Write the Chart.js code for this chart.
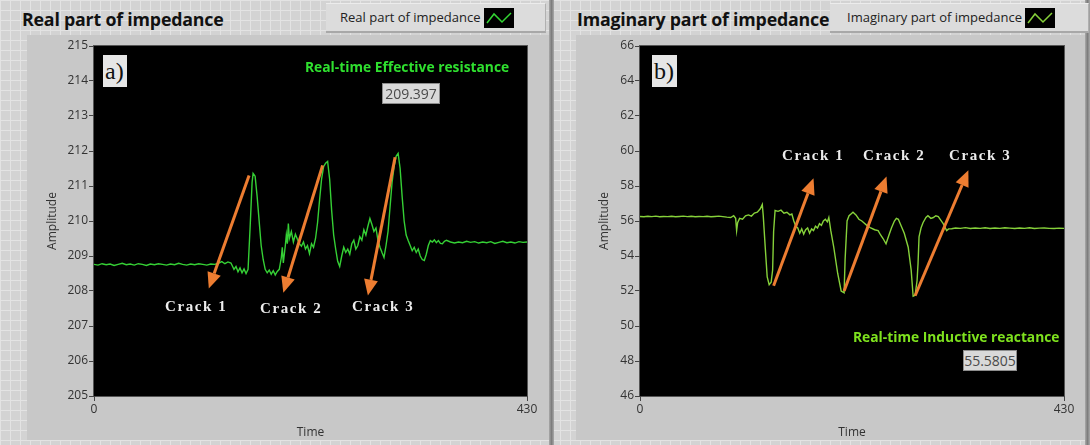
<!DOCTYPE html>
<html>
<head>
<meta charset="utf-8">
<script src="https://cdn.jsdelivr.net/npm/chart.js@4.4.0/dist/chart.umd.min.js"></script>
<style>
  body {
    margin: 0;
    width: 1090px;
    height: 445px;
    overflow: hidden;
    position: relative;
    font-family: "Open Sans", "Noto Sans", sans-serif;
    background-color: #d3d3d3;
    background-image:
      linear-gradient(#e3e3e3 1px, transparent 1px),
      linear-gradient(90deg, #e3e3e3 1px, transparent 1px);
    background-size: 10px 10px;
  }
  .abs { position: absolute; white-space: nowrap; }
  .panel { position: absolute; background: #c8c8c8; }
  .divider { position: absolute; top: 0; height: 445px; background: linear-gradient(90deg, #a9a9a9, #7d7d7d, #a9a9a9); }
  .title { font-weight: 700; font-size: 17.8px; color: #111; letter-spacing: -0.2px; }
  .legend {
    position: absolute; height: 27px; background: #dcdcdc;
    border-top: 1px solid #ececec;
    border-bottom: 2px solid #a8a8a8; border-right: 1px solid #b0b0b0;
    font-size: 13px; color: #222; line-height: 27px;
  }
  .legend svg { position: absolute; top: 4px; }
  canvas { position: absolute; }
  .crack { font-family: "Liberation Serif", serif; font-weight: 700; font-size: 15px; color: #ececec; letter-spacing: 1.6px; }
  .tag { background: #e6e6e6; font-family: "Liberation Serif", serif; font-size: 24px; color: #111; line-height: 32px; padding-left: 2px; }
  .glabel { font-weight: 700; font-size: 13.8px; }
  .vbox { background: #d9d9d9; border: 1px solid #8c8c8c; color: #4a4a4a; font-size: 14px; text-align: center; line-height: 19px; }
</style>
</head>
<body>
<div class="panel" style="left:27px;top:35px;width:522px;height:405px;"></div>
<div class="panel" style="left:576px;top:35px;width:509px;height:405px;"></div>
<div class="divider" style="left:549px;width:5px;"></div>
<div class="divider" style="left:1085px;width:5px;"></div>

<div class="abs title" style="left:22px;top:7px;">Real part of impedance</div>
<div class="legend" style="left:326px;top:3px;width:219px;">
  <span style="position:absolute;left:14px;">Real part of impedance</span>
  <svg style="left:158px;" width="30" height="20"><rect width="30" height="20" fill="#000"/><polyline points="3,15 10,6 18,14 27,5" fill="none" stroke="#33d633" stroke-width="1.5"/></svg>
</div>

<div class="abs title" style="left:577px;top:7px;">Imaginary part of impedance</div>
<div class="legend" style="left:830px;top:3px;width:258px;">
  <span style="position:absolute;left:17px;">Imaginary part of impedance</span>
  <svg style="left:195px;" width="30" height="20"><rect width="30" height="20" fill="#000"/><polyline points="3,15 10,6 18,14 27,5" fill="none" stroke="#86d13a" stroke-width="1.5"/></svg>
</div>

<canvas id="realChart" width="520" height="410" style="left:28px;top:35px;"></canvas>
<canvas id="imagChart" width="508" height="410" style="left:577px;top:35px;"></canvas>

<!-- panel a) overlays -->
<div class="abs tag" style="left:103px;top:55px;width:22px;height:32px;">a)</div>
<div class="abs glabel" style="left:305px;top:57px;color:#2fe02f;">Real-time Effective resistance</div>
<div class="abs vbox" style="left:382px;top:83px;width:56px;height:19px;">209.397</div>
<div class="abs crack" style="left:165px;top:298px;">Crack 1</div>
<div class="abs crack" style="left:260px;top:300px;">Crack 2</div>
<div class="abs crack" style="left:352px;top:298px;">Crack 3</div>

<!-- panel b) overlays -->
<div class="abs tag" style="left:652px;top:55px;width:23px;height:32px;">b)</div>
<div class="abs glabel" style="left:853px;top:327px;color:#7ee21e;">Real-time Inductive reactance</div>
<div class="abs vbox" style="left:963px;top:350px;width:52px;height:19px;">55.5805</div>
<div class="abs crack" style="left:782px;top:147px;">Crack 1</div>
<div class="abs crack" style="left:863px;top:147px;">Crack 2</div>
<div class="abs crack" style="left:949px;top:147px;">Crack 3</div>

<script>
// 실수부 (유효 저항) 시계열
const realTime = [
  0, 4, 8, 12, 16, 20, 24, 28, 32, 36, 40, 44, 48, 52, 56, 60, 64, 68, 72, 76,
  80, 84, 88, 92, 96, 100, 104, 108, 112, 116, 120, 124, 127, 130, 133, 136, 139, 141, 143, 145,
  147, 149, 151, 153, 155, 157, 158, 160, 162, 164, 166, 168, 170, 172, 174, 176, 178, 180, 182, 184,
  186, 187, 188, 190, 191, 192, 193, 194, 196, 198, 200, 202, 204, 206, 208, 210, 212, 214, 216, 218,
  220, 222, 224, 226, 228, 230, 232, 234, 236, 238, 240, 242, 244, 246, 248, 250, 252, 254, 256, 258,
  260, 262, 264, 266, 268, 270, 272, 274, 276, 278, 280, 282, 284, 286, 288, 290, 292, 294, 296, 298,
  300, 302, 304, 306, 308, 310, 312, 314, 316, 318, 320, 322, 324, 326, 328, 330, 332, 334, 336, 338,
  340, 342, 344, 346, 348, 350, 354, 358, 362, 366, 370, 374, 378, 382, 386, 390, 394, 398, 402, 406,
  410, 414, 418, 422, 426, 430
];
const realValues = [
  208.76, 208.74, 208.78, 208.75, 208.77, 208.73, 208.76, 208.79, 208.75, 208.77, 208.74, 208.78, 208.76, 208.73, 208.77, 208.75, 208.78, 208.76, 208.74, 208.77,
  208.75, 208.79, 208.76, 208.74, 208.77, 208.75, 208.78, 208.76, 208.74, 208.77, 208.76, 208.80, 208.84, 208.78, 208.83, 208.80, 208.62, 208.70, 208.55, 208.66,
  208.52, 208.63, 208.50, 208.62, 209.80, 211.10, 211.36, 211.28, 210.70, 210.00, 209.30, 208.90, 208.62, 208.52, 208.60, 208.48, 208.58, 208.46, 208.56, 208.62,
  208.95, 209.25, 208.80, 209.30, 209.60, 209.35, 209.93, 209.50, 209.70, 209.40, 209.62, 209.48, 209.35, 209.28, 209.40, 209.20, 209.30, 209.07, 209.35, 209.25,
  209.50, 209.95, 210.60, 211.20, 211.55, 211.65, 211.70, 211.20, 210.30, 209.60, 209.20, 208.85, 208.70, 209.00, 209.25, 209.10, 209.20, 209.05, 209.35, 209.45,
  209.20, 209.30, 209.55, 209.45, 209.75, 209.60, 209.85, 210.07, 209.90, 209.70, 209.80, 209.45, 209.25, 209.10, 208.96, 209.30, 209.70, 210.40, 211.10, 211.55,
  211.85, 211.93, 211.50, 210.70, 210.00, 209.60, 209.44, 209.30, 209.15, 209.25, 209.10, 209.20, 209.00, 208.90, 208.87, 209.05, 209.30, 209.44, 209.40, 209.46,
  209.38, 209.44, 209.36, 209.35, 209.42, 209.45, 209.40, 209.37, 209.40, 209.38, 209.42, 209.39, 209.41, 209.37, 209.40, 209.38, 209.41, 209.36, 209.39, 209.42,
  209.38, 209.40, 209.37, 209.41, 209.39, 209.40
];

// 허수부 (유도 리액턴스) 시계열
const imagTime = [
  0, 4, 8, 12, 16, 20, 24, 28, 32, 36, 40, 44, 48, 52, 56, 60, 64, 68, 72, 76,
  80, 84, 88, 92, 95, 97, 98, 99, 101, 104, 107, 110, 113, 116, 119, 122, 124, 125, 127, 129,
  131, 133, 134.5, 135.5, 137, 140, 143, 146, 149, 152, 154, 156, 158, 160, 162, 164, 166, 168, 170, 172,
  174, 176, 178, 180, 182, 184, 186, 188, 190, 191.5, 193.5, 196.5, 200.5, 204, 207, 208, 210, 212, 214, 216,
  219, 222, 225, 227, 230, 234, 238, 241.5, 244, 246.5, 249.5, 252.5, 255, 258, 260, 262, 265, 268, 272, 275,
  277, 279, 281, 282, 283, 285, 287, 290, 292, 295, 297.5, 300, 302.5, 305, 307.5, 311, 313, 316, 320, 325,
  330, 335, 340, 345, 350, 355, 360, 365, 370, 375, 380, 385, 390, 395, 400, 405, 410, 415, 420, 425, 430
];
const imagValues = [
  56.26, 56.24, 56.27, 56.25, 56.28, 56.24, 56.26, 56.25, 56.27, 56.24, 56.26, 56.28, 56.25, 56.27, 56.24, 56.26, 56.25, 56.27, 56.24, 56.26,
  56.28, 56.25, 56.22, 56.20, 56.30, 56.15, 55.45, 55.90, 56.15, 56.10, 56.30, 56.35, 56.28, 56.45, 56.50, 56.70, 56.95, 56.30, 54.50, 52.80,
  52.36, 52.50, 53.20, 55.40, 56.60, 56.55, 56.62, 56.45, 56.50, 56.35, 56.40, 56.00, 55.70, 55.60, 55.30, 55.55, 55.25, 55.50, 55.60, 55.30,
  55.55, 55.45, 55.70, 55.60, 55.85, 55.75, 56.00, 56.10, 55.95, 56.20, 55.45, 54.50, 53.00, 52.00, 51.90, 53.80, 56.00, 56.30, 56.40, 56.50,
  56.35, 56.10, 56.00, 55.90, 55.75, 55.60, 55.50, 55.45, 55.20, 55.00, 54.70, 55.20, 55.60, 56.00, 56.15, 56.10, 55.70, 55.30, 54.50, 53.20,
  51.70, 51.75, 52.60, 53.60, 55.10, 55.60, 55.90, 56.20, 56.30, 56.15, 56.20, 56.30, 56.25, 56.05, 55.85, 55.45, 55.55, 55.56, 55.60, 55.58,
  55.62, 55.57, 55.60, 55.58, 55.61, 55.57, 55.60, 55.58, 55.61, 55.59, 55.57, 55.60, 55.58, 55.61, 55.57, 55.59, 55.60, 55.58, 55.57, 55.59, 55.58
];

// 균열 화살표 [시작 t, 시작 값, 끝 t, 끝 값] (끝에 화살촉)
const realArrows = [
  [154, 211.30, 114, 208.07],
  [227, 211.59, 188, 207.95],
  [299, 211.82, 272, 207.87]
];
const imagArrows = [
  [135.5, 52.30, 176, 58.44],
  [207, 52.00, 250, 58.55],
  [279, 51.73, 333, 58.90]
];

const blackPlot = {
  id: "blackPlot",
  beforeDraw(chart) {
    const { ctx, chartArea: a } = chart;
    ctx.save();
    ctx.fillStyle = "#000";
    ctx.fillRect(a.left, a.top, a.right - a.left, a.bottom - a.top);
    ctx.strokeStyle = "#555";
    ctx.lineWidth = 1;
    ctx.strokeRect(a.left - 0.5, a.top - 0.5, a.right - a.left + 1, a.bottom - a.top + 1);
    ctx.restore();
  }
};

const arrowPlugin = {
  id: "arrows",
  afterDatasetsDraw(chart, args, opts) {
    const { ctx } = chart;
    const xs = chart.scales.x;
    const ys = chart.scales.y;
    ctx.save();
    ctx.strokeStyle = "#ed7d31";
    ctx.fillStyle = "#ed7d31";
    ctx.lineWidth = 3;
    for (const a of opts.list || []) {
      const x1 = xs.getPixelForValue(a[0]);
      const y1 = ys.getPixelForValue(a[1]);
      const x2 = xs.getPixelForValue(a[2]);
      const y2 = ys.getPixelForValue(a[3]);
      const ang = Math.atan2(y2 - y1, x2 - x1);
      const len = 16;
      const bx = x2 - len * Math.cos(ang);
      const by = y2 - len * Math.sin(ang);
      ctx.beginPath();
      ctx.moveTo(x1, y1);
      ctx.lineTo(bx, by);
      ctx.stroke();
      ctx.beginPath();
      ctx.moveTo(x2, y2);
      ctx.lineTo(bx + 7 * Math.sin(ang), by - 7 * Math.cos(ang));
      ctx.lineTo(bx - 7 * Math.sin(ang), by + 7 * Math.cos(ang));
      ctx.closePath();
      ctx.fill();
    }
    ctx.restore();
  }
};

function makeChart(id, times, values, color, yMin, yMax, yStep, arrows, axisWidth, titlePad, rightPad) {
  const tickFont = { family: "'Open Sans', 'Noto Sans', sans-serif", size: 12 };
  return new Chart(document.getElementById(id), {
    type: "line",
    data: {
      datasets: [{
        data: times.map((t, i) => ({ x: t, y: values[i] })),
        borderColor: color,
        borderWidth: 1.4,
        pointRadius: 0,
        tension: 0,
        fill: false
      }]
    },
    options: {
      responsive: false,
      animation: false,
      layout: { padding: { top: 11, right: rightPad, left: 0, bottom: 0 } },
      plugins: {
        legend: { display: false },
        tooltip: { enabled: false },
        arrows: { list: arrows }
      },
      scales: {
        x: {
          type: "linear",
          min: 0,
          max: 430,
          afterFit: (s) => { s.height = 49; },
          ticks: { stepSize: 430, color: "#333", font: tickFont, padding: 1, maxRotation: 0 },
          grid: { drawOnChartArea: false, drawTicks: true, tickLength: 5, color: "#444" },
          border: { display: false },
          title: { display: true, text: "Time", color: "#333", font: tickFont, padding: { top: 4, bottom: 5 } }
        },
        y: {
          min: yMin,
          max: yMax,
          afterFit: (s) => { s.width = axisWidth; },
          ticks: { stepSize: yStep, color: "#333", font: tickFont, padding: 1 },
          grid: { drawOnChartArea: false, drawTicks: true, tickLength: 5, color: "#444" },
          border: { display: false },
          title: { display: true, text: "Amplitude", color: "#333", font: tickFont, padding: { top: titlePad, bottom: 0 } }
        }
      }
    },
    plugins: [blackPlot, arrowPlugin]
  });
}

makeChart("realChart", realTime, realValues, "#35d035", 205, 215, 1, realArrows, 66, 17, 21);
makeChart("imagChart", imagTime, imagValues, "#86d13a", 46, 66, 2, imagArrows, 63, 20, 21);
</script>
</body>
</html>
